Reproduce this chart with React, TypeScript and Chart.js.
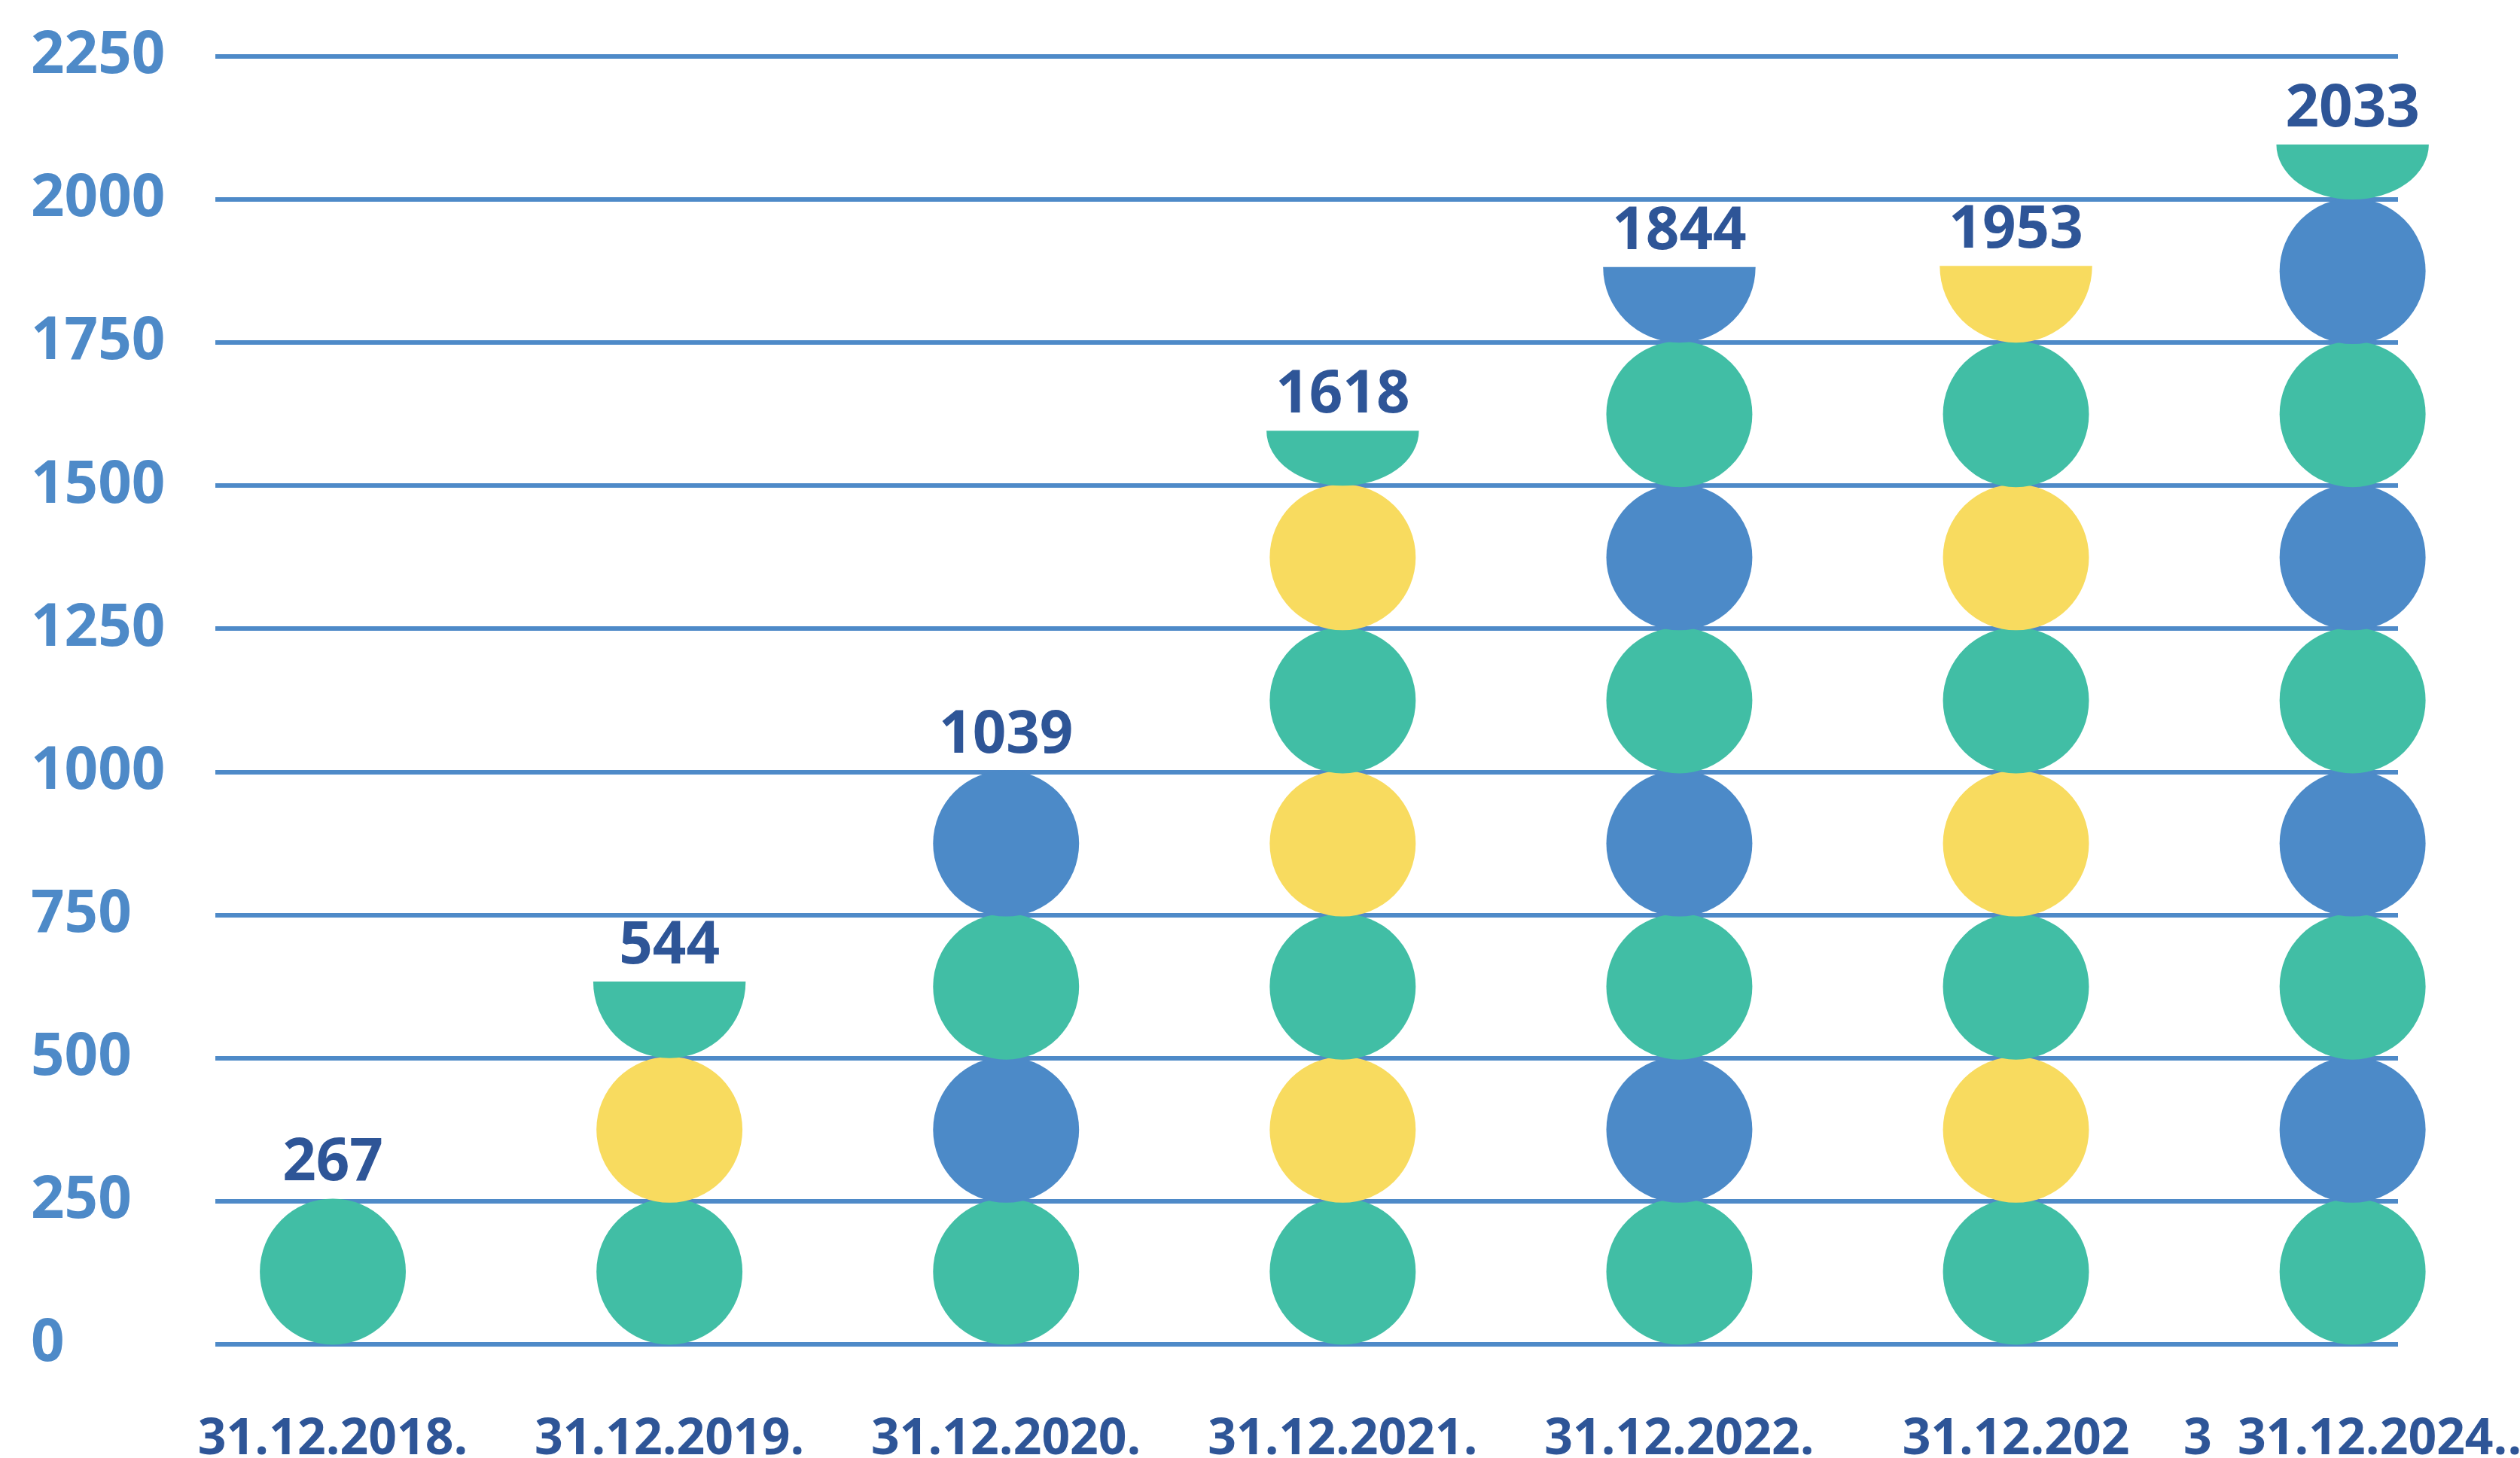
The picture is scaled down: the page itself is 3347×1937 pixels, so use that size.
import React, { useEffect, useRef } from 'react';
import { Chart, registerables } from 'chart.js';

Chart.register(...registerables);

// ---- data ----
const categories = ['31.12.2018.', '31.12.2019.', '31.12.2020.', '31.12.2021.', '31.12.2022.', '31.12.202', '3  31.12.2024..'];
const totals = [267, 544, 1039, 1618, 1844, 1953, 2033];
// number of whole circles (each one = 250) in every column
const fullCircles = [1, 2, 4, 6, 7, 7, 8];
// visible height (in value units) of the cut circle on top of each column
const topCapUnits = [0, 134, 0, 96, 132, 134, 96];
// second colour that alternates with green in every column
const accentKind = ['yellow', 'yellow', 'blue', 'yellow', 'blue', 'yellow', 'blue'];
const yTickValues = [0, 250, 500, 750, 1000, 1250, 1500, 1750, 2000, 2250];
const circleUnit = 250;

const COLORS: Record<string, string> = {
  green: '#41BEA5',
  yellow: '#F8DB5F',
  blue: '#4C8AC8',
  grid: '#4E8AC8',
  axisText: '#4E8AC8',
  valueText: '#2E5597',
};

const FONT = '"Open Sans", "Noto Sans", sans-serif';

function buildLayers() {
  const maxLayers = Math.max(...fullCircles.map((f, i) => f + (topCapUnits[i] > 0 ? 1 : 0)));
  const layers = [];
  for (let k = 0; k < maxLayers; k++) {
    layers.push({
      label: 'layer ' + k,
      data: categories.map((_, i) => {
        let v: number | null = null;
        if (k < fullCircles[i]) v = circleUnit;
        else if (k === fullCircles[i] && topCapUnits[i] > 0) v = topCapUnits[i];
        return { x: i, y: v };
      }),
      backgroundColor: 'rgba(0,0,0,0)',
      borderWidth: 0,
      barThickness: 10,
      stack: 'dots',
    });
  }
  return layers;
}

const circlePlugin = {
  id: 'circleStacks',
  afterDatasetsDraw(chart: any) {
    const ctx = chart.ctx as CanvasRenderingContext2D;
    const yScale = chart.scales.y;
    const unitPx = Math.abs(yScale.getPixelForValue(0) - yScale.getPixelForValue(circleUnit));
    const r = (unitPx / 2) * 1.02;
    const capRx = (unitPx / 2) * 1.065;
    const tops = categories.map(() => Infinity);
    const xs: number[] = [];
    chart.data.datasets.forEach((ds: any, k: number) => {
      const meta = chart.getDatasetMeta(k);
      meta.data.forEach((el: any, i: number) => {
        const v = ds.data[i].y;
        if (v == null) return;
        const p = el.getProps(['x', 'y', 'base'], true);
        xs[i] = p.x;
        ctx.save();
        ctx.fillStyle = k % 2 === 0 ? COLORS.green : COLORS[accentKind[i]];
        ctx.beginPath();
        if (v >= circleUnit) {
          const cy = (p.y + p.base) / 2;
          ctx.arc(p.x, cy, r, 0, Math.PI * 2);
          tops[i] = Math.min(tops[i], cy - r);
        } else {
          ctx.ellipse(p.x, p.y, capRx, Math.abs(p.base - p.y), 0, 0, Math.PI);
          tops[i] = Math.min(tops[i], p.y);
        }
        ctx.closePath();
        ctx.fill();
        ctx.restore();
      });
    });
    ctx.save();
    ctx.font = `bold 78px ${FONT}`;
    ctx.fillStyle = COLORS.valueText;
    ctx.textAlign = 'center';
    ctx.textBaseline = 'alphabetic';
    totals.forEach((t, i) => {
      if (xs[i] == null) return;
      ctx.fillText(String(t), xs[i], tops[i] - 24);
    });
    ctx.restore();
  },
};

export default function App() {
  const canvasRef = useRef<HTMLCanvasElement | null>(null);

  useEffect(() => {
    document.body.style.margin = '0';
    const canvas = canvasRef.current;
    if (!canvas) return;
    const chart = new Chart(canvas, {
      type: 'bar',
      data: { datasets: buildLayers() as any },
      plugins: [circlePlugin],
      options: {
        animation: false,
        responsive: false,
        devicePixelRatio: 1,
        events: [],
        layout: { padding: { top: 75, left: 41, right: 162, bottom: 0 } },
        plugins: { legend: { display: false }, tooltip: { enabled: false } },
        scales: {
          x: {
            type: 'linear',
            min: -0.349,
            max: 6.135,
            offset: false,
            stacked: true,
            grid: { display: false, drawTicks: false, offset: false },
            border: { display: false },
            afterBuildTicks: (s: any) => {
              s.ticks = categories.map((_, i) => ({ value: i }));
            },
            afterFit: (s: any) => {
              s.height = 151;
              s.paddingLeft = 0;
              s.paddingRight = 0;
            },
            ticks: {
              autoSkip: false,
              maxRotation: 0,
              minRotation: 0,
              padding: 88,
              color: COLORS.valueText,
              font: { family: FONT, weight: 'bold', size: 66 },
              callback: (v: any) => categories[Math.round(Number(v))] ?? '',
            },
          },
          y: {
            min: yTickValues[0],
            max: yTickValues[yTickValues.length - 1],
            stacked: true,
            grid: { color: COLORS.grid, lineWidth: 6, drawTicks: false },
            border: { display: false },
            afterBuildTicks: (s: any) => {
              s.ticks = yTickValues.map((v) => ({ value: v }));
            },
            afterFit: (s: any) => {
              s.width = 245;
            },
            ticks: {
              crossAlign: 'far',
              padding: 0,
              color: COLORS.axisText,
              font: { family: FONT, weight: 'bold', size: 78 },
              callback: (v: any) => String(v),
            },
          },
        },
      } as any,
    });
    return () => chart.destroy();
  }, []);

  return (
    <div style={{ width: 3347, height: 1937 }}>
      <canvas ref={canvasRef} width={3347} height={1937} style={{ display: 'block' }} />
    </div>
  );
}
